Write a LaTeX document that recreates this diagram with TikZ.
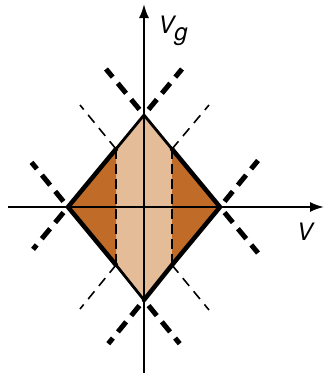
\documentclass[tikz,border=0pt]{standalone}
\usepackage{fontspec}
\setmainfont{TeX Gyre Heros}
\usetikzlibrary{arrows.meta, calc}
\definecolor{darkfill}{RGB}{192,108,40}
\definecolor{lightfill}{RGB}{229,188,152}
\begin{document}
\begin{tikzpicture}[x=1pt, y=-1pt,
    axis/.style={line width=2pt, -{Latex[length=14pt, width=10pt]}},
    outer/.style={line width=4.5pt, line cap=round},
    inner/.style={line width=2.8pt, line cap=round},
    bigdash/.style={line width=5pt, dash pattern=on 13pt off 8pt},
    smalldash/.style={line width=1.6pt, dash pattern=on 10pt off 7pt},
    cutline/.style={line width=2.6pt, dash pattern=on 10pt off 5pt},
    lbl/.style={font=\fontsize{24}{26}\selectfont\itshape, inner sep=0pt}]
    \useasboundingbox (0,0) rectangle (324,376);

    % Punten
    \coordinate (O) at (144,207);
    \coordinate (T) at (144,115);
    \coordinate (B) at (144,300);
    \coordinate (L) at (68,207);
    \coordinate (R) at (220,207);
    \coordinate (P1) at (116,149);
    \coordinate (P2) at (172,149);
    \coordinate (P3) at (116,265);
    \coordinate (P4) at (172,265);

    % Vlakken kleuren
    \fill[lightfill] (P1) -- (T) -- (P2) -- (P4) -- (B) -- (P3) -- cycle;
    \fill[darkfill] (L) -- (P1) -- (P3) -- cycle;
    \fill[darkfill] (R) -- (P2) -- (P4) -- cycle;

    % Verlengde randen (dik gestreept)
    \draw[bigdash] ($(T)!-0.06!(L)$) -- ($(T)!-0.5!(L)$);
    \draw[bigdash] ($(T)!-0.06!(R)$) -- ($(T)!-0.5!(R)$);
    \draw[bigdash] ($(B)!-0.06!(L)$) -- ($(B)!-0.47!(L)$);
    \draw[bigdash] ($(B)!-0.06!(R)$) -- ($(B)!-0.47!(R)$);
    \draw[bigdash] ($(L)!-0.06!(T)$) -- ($(L)!-0.46!(T)$);
    \draw[bigdash] ($(L)!-0.06!(B)$) -- ($(L)!-0.48!(B)$);
    \draw[bigdash] ($(R)!-0.06!(T)$) -- ($(R)!-0.5!(T)$);
    \draw[bigdash] ($(R)!-0.06!(B)$) -- ($(R)!-0.5!(B)$);

    % Dunne gestreepte lijnen
    \draw[smalldash] (P1) -- ++(-36,-44);
    \draw[smalldash] (P2) -- ++(37,-44);
    \draw[smalldash] (P3) -- ++(-36,44);
    \draw[smalldash] (P4) -- ++(37,45);

    % Snijlijnen
    \draw[cutline] (P1) -- (P3);
    \draw[cutline] (P2) -- (P4);

    % Assen
    \draw[axis] (8,207) -- (324,207);
    \draw[axis] (144,373) -- (144,4);

    % Randen van de ruit
    \draw[outer] (P1) -- (L) -- (P3);
    \draw[outer] (P2) -- (R) -- (P4) -- (B);
    \draw[inner] (P1) -- (T) -- (P2);
    \draw[inner] (P3) -- (B);

    % Labels
    \node[lbl] (vg) at (173,31) {V\raisebox{-7pt}{g}};
    \node[lbl] (v) at (305,232) {V};
\end{tikzpicture}
\end{document}
